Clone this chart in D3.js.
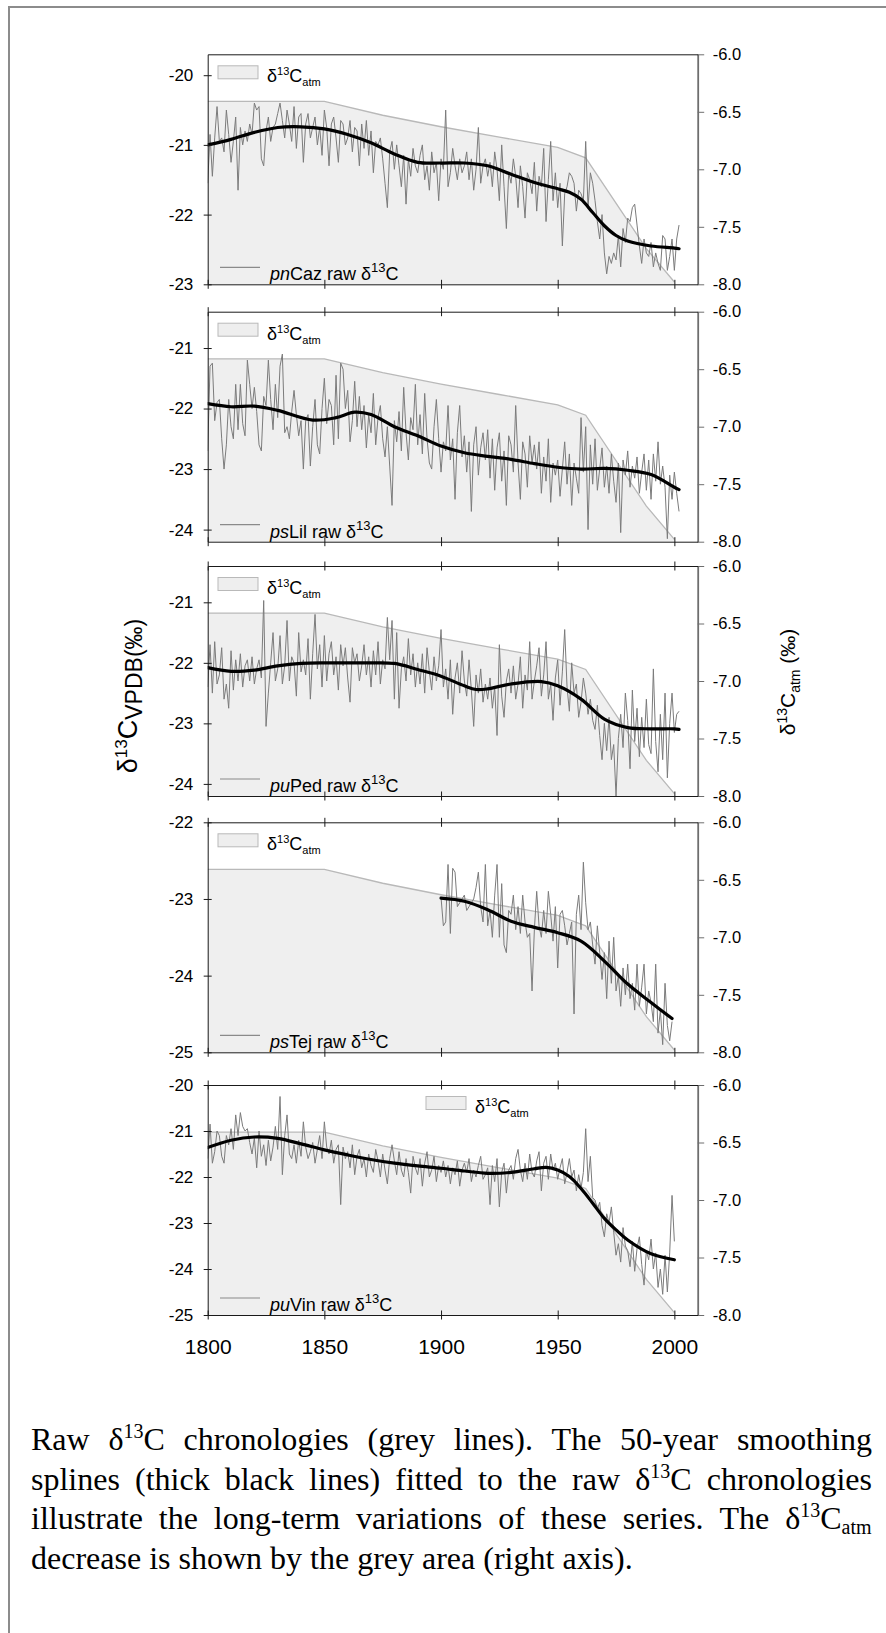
<!DOCTYPE html>
<html>
<head>
<meta charset="utf-8">
<script src="https://cdn.jsdelivr.net/npm/d3@7"></script>
<style>
  body { margin: 0; background: #fff; }
  svg { display: block; }
</style>
</head>
<body>
<svg id="fig" width="886" height="1633"></svg>
<script>
// ---- Sites (italic species prefix + site code) ----
const sitePrefix = ["pn", "ps", "pu", "ps", "pu"];
const siteCode   = ["Caz", "Lil", "Ped", "Tej", "Vin"];

// ---- Axis settings per panel ----
const leftDomains = [[-23, -19.7], [-24.2, -20.4], [-24.2, -20.4], [-25, -22], [-25, -20]];
const leftTicks = [
  [-20, -21, -22, -23],
  [-21, -22, -23, -24],
  [-21, -22, -23, -24],
  [-22, -23, -24, -25],
  [-20, -21, -22, -23, -24, -25]
];
const rightDomain = [-8, -6];
const rightTicks = [-6.0, -6.5, -7.0, -7.5, -8.0];
const yearTicks = [1800, 1850, 1900, 1950, 2000];

// ---- Atmospheric d13C (right axis) ----
const atmYears  = [1800, 1850, 1875, 1900, 1925, 1950, 1962, 1988, 2000];
const atmValues = [-6.41, -6.41, -6.53, -6.63, -6.72, -6.81, -6.90, -7.69, -7.98];

// ---- Raw annual d13C chronologies (first year, then yearly values) ----
const rawStart = [1800, 1800, 1800, 1900, 1800];

const rawCaz = [
  -21.55, -20.85, -21.45, -20.9, -20.45, -20.95, -20.9, -21.1, -20.5, -20.85,
  -21.25, -20.95, -20.6, -21.65, -20.75, -21.0, -20.8, -20.95, -20.7, -20.85,
  -20.4, -20.5, -20.45, -21.2, -21.3, -20.8, -20.6, -20.95, -20.75, -20.7,
  -20.55, -20.4, -20.65, -20.9, -20.5, -20.7, -20.95, -20.45, -21.05, -20.6,
  -20.55, -21.25, -20.7, -20.55, -20.9, -20.75, -20.6, -21.0, -20.75, -21.15,
  -20.5, -20.75, -21.3, -20.7, -20.6, -20.9, -21.25, -20.65, -20.7, -21.0,
  -20.9, -20.65, -21.1, -20.75, -20.8, -21.3, -20.7, -21.05, -20.65, -21.15,
  -20.8, -21.4, -20.95, -21.0, -20.9, -21.2, -21.55, -21.9, -21.1, -20.95,
  -21.35, -21.0, -21.3, -21.6, -21.15, -21.85, -21.2, -21.45, -21.05, -21.3,
  -21.4, -21.15, -21.0, -21.5, -21.3, -21.65, -21.1, -21.4, -21.25, -21.8,
  -21.2, -21.35, -20.5, -21.6, -21.4, -21.05, -21.3, -21.5, -21.2, -21.4,
  -21.3, -21.1, -21.5, -21.2, -21.65, -21.35, -20.75, -21.55, -21.3, -21.2,
  -21.45, -21.25, -21.6, -21.1, -21.35, -21.8, -21.0, -21.6, -22.2, -21.4,
  -21.55, -21.2, -21.45, -21.9, -21.3, -21.6, -22.05, -21.4, -21.5, -21.7,
  -21.25, -21.95, -21.45, -21.6, -21.05, -22.1, -21.5, -20.95, -21.8, -21.4,
  -21.9, -21.55, -22.45, -21.7, -21.6, -21.4, -21.45, -21.55, -21.95, -21.65,
  -21.7, -21.8, -20.95, -21.9, -21.4, -21.55, -21.8, -22.1, -22.35, -22.0,
  -22.55, -22.85, -22.6, -22.7, -22.55, -22.65, -22.3, -22.75, -22.2, -22.4,
  -22.05, -22.1, -21.9, -21.85, -22.15, -22.45, -22.7, -22.35, -22.55, -22.6,
  -22.4, -22.75, -22.55, -22.7, -22.8, -22.3, -22.35, -22.8, -22.6, -22.35,
  -22.8, -22.35, -22.15
];

const rawLil = [
  -22.7, -21.3, -21.25, -22.2, -21.9, -21.85, -22.5, -23.0, -22.6, -21.85,
  -22.3, -22.5, -21.6, -22.35, -21.6, -22.25, -22.45, -21.2, -21.6, -22.0,
  -21.65, -22.05, -22.6, -22.7, -21.8, -21.95, -21.2, -21.85, -22.35, -21.6,
  -22.15, -21.3, -21.1, -22.4, -22.3, -22.5, -22.05, -21.7, -22.1, -22.45,
  -22.2, -23.0, -22.2, -22.1, -22.95, -22.3, -21.85, -22.6, -22.75, -22.0,
  -21.5, -22.25, -21.85, -21.95, -22.6, -21.45, -22.5, -21.25, -21.35, -22.0,
  -21.7, -22.55, -22.2, -21.55, -22.3, -21.8, -22.35, -21.95, -22.65, -22.1,
  -22.4, -21.75, -22.6, -22.15, -21.95, -22.5, -22.8, -22.3, -22.95, -23.6,
  -22.2, -22.55, -22.05, -22.7, -21.65, -22.4, -22.85, -22.15, -22.35, -21.6,
  -22.6, -22.1, -22.75, -21.75, -22.5, -22.9, -23.0, -22.3, -21.85, -22.5,
  -23.05, -22.55, -22.7, -21.95, -22.85, -22.5, -23.5, -22.4, -21.95, -22.8,
  -22.45, -23.05, -22.55, -23.7, -22.6, -22.3, -23.1, -22.65, -22.4, -22.85,
  -22.35, -23.15, -22.5, -23.35, -22.65, -22.4, -23.2, -22.7, -23.6, -22.45,
  -22.6, -23.05, -21.95, -22.9, -23.5, -22.55, -22.75, -23.3, -22.45, -22.9,
  -22.6, -23.0, -22.55, -23.4, -22.8, -23.2, -22.5, -23.55, -22.9, -23.1,
  -22.85, -23.45, -23.0, -22.55, -23.25, -22.75, -23.6, -22.9, -23.15, -23.4,
  -22.15, -23.05, -22.3, -24.0, -22.6, -23.25, -22.5, -23.35, -23.0, -22.65,
  -23.3, -22.95, -23.4, -22.75, -23.2, -23.55, -22.9, -24.05, -22.85, -23.1,
  -22.7, -23.3, -22.95, -23.15, -22.8, -23.4, -23.05, -22.75, -23.35, -22.85,
  -23.5, -22.75, -23.2, -22.55, -23.25, -22.95, -23.3, -24.15, -23.1, -23.5,
  -23.05, -23.4, -23.7
];

const rawPed = [
  -22.4, -21.7, -22.5, -21.65, -22.35, -22.2, -21.75, -22.6, -22.35, -22.75,
  -21.8, -22.45, -21.95, -22.3, -21.85, -22.4, -22.05, -21.95, -22.3, -21.9,
  -22.35, -22.1, -21.95, -22.25, -20.97, -23.05, -22.5, -22.0, -21.5, -22.3,
  -22.1, -21.55, -22.35, -22.05, -21.3, -22.3, -21.9, -22.0, -22.55, -21.5,
  -22.15, -21.95, -22.2, -21.6, -22.6, -21.85, -21.2, -22.1, -21.7, -22.4,
  -21.55, -22.3, -21.85, -21.65, -22.2, -21.9, -22.45, -21.7, -22.05, -21.75,
  -22.25, -22.65, -21.75, -22.0, -21.85, -22.3, -22.05, -21.7, -22.2, -21.9,
  -22.4, -21.8, -22.2, -21.65, -22.35, -21.95, -22.1, -21.25, -21.95, -21.3,
  -22.6, -21.5, -22.75, -22.1, -21.9, -22.3, -21.6, -22.2, -21.85, -22.4,
  -22.0, -22.35, -21.85, -22.5, -21.75, -22.15, -22.45, -21.9, -22.3, -22.05,
  -21.45, -22.4, -22.1, -22.6, -21.95, -22.85, -22.25, -22.0, -22.5, -21.8,
  -22.3, -22.55, -21.95, -22.45, -23.05, -22.2, -22.5, -22.1, -22.65, -22.35,
  -22.6, -22.25, -22.75, -22.4, -23.2, -21.7, -22.55, -22.9, -22.3, -22.1,
  -22.5, -22.05, -22.6, -22.35, -21.9, -22.75, -22.2, -22.45, -21.65, -22.6,
  -22.3, -22.05, -21.75, -22.55, -22.2, -21.65, -22.6, -22.35, -22.95, -22.25,
  -21.95, -22.7, -22.15, -21.45, -22.4, -22.8, -22.0, -22.5, -22.35, -22.9,
  -22.65, -22.25, -22.5, -22.85, -22.6, -22.95, -23.1, -22.7, -23.2, -23.6,
  -23.0, -23.45, -22.9, -23.6, -23.35, -24.2, -23.25, -22.85, -23.4, -22.5,
  -22.95, -23.75, -22.45, -23.3, -22.75, -23.55, -22.9, -23.4, -22.6, -23.35,
  -23.5, -22.1, -23.3, -23.8, -22.85, -23.6, -22.5, -23.9, -23.0, -22.5,
  -23.15, -22.85, -22.8
];

const rawTej = [
  -22.98, -23.35, -23.3, -22.55, -23.45, -22.6, -22.65, -23.1, -23.05, -23.0,
  -22.95, -23.15, -23.1, -23.05, -23.0, -22.85, -22.65, -23.1, -23.3, -22.55,
  -23.35, -23.15, -23.5, -22.95, -22.55, -23.5, -22.8, -23.6, -23.7, -23.15,
  -23.2, -22.95, -23.4, -23.1, -23.45, -22.95, -23.3, -23.5, -23.45, -24.2,
  -23.4, -22.9, -23.35, -23.5, -23.15, -23.45, -22.9, -23.2, -23.55, -23.1,
  -23.9, -23.2, -23.15, -23.35, -23.6, -23.45, -23.3, -24.5, -23.2, -22.95,
  -23.4, -22.52, -23.05, -23.4, -23.3, -23.6, -23.85, -23.35, -23.7, -24.05,
  -23.7, -24.3, -23.55, -24.1, -23.5, -24.2, -24.0, -24.4, -23.9, -24.25,
  -23.85, -24.3, -24.1, -24.45, -23.85, -24.4, -24.15, -23.85, -24.5, -24.2,
  -24.35, -24.6, -23.85, -24.75, -24.45, -24.9, -24.1, -24.65, -24.85, -24.6
];

const rawVin = [
  -21.6, -20.85, -21.7, -21.45, -21.0, -21.1, -21.55, -21.7, -21.1, -21.3,
  -20.95, -21.4, -20.65, -21.1, -20.6, -20.9, -21.0, -20.95, -21.25, -21.5,
  -21.15, -21.8, -21.0, -21.55, -21.3, -21.75, -21.2, -21.65, -21.35, -20.9,
  -21.4, -20.25, -21.95, -21.1, -20.65, -21.5, -21.6, -21.3, -21.7, -21.2,
  -21.55, -20.8, -21.35, -21.6, -21.45, -21.25, -21.7, -21.4, -21.1, -21.6,
  -20.8, -21.35, -21.5, -21.2, -21.7, -21.4, -21.3, -22.6, -21.35, -21.6,
  -21.45, -21.8, -21.3, -21.95, -21.55, -21.4, -21.8, -21.6, -22.0, -21.5,
  -21.75, -21.9, -21.4, -21.65, -22.0, -21.5, -21.85, -22.15, -21.6, -21.3,
  -21.65, -21.95, -21.45, -21.85, -22.0, -21.6, -21.9, -22.35, -21.55, -21.8,
  -21.95, -21.6, -22.2, -21.7, -21.45, -22.0, -21.85, -21.55, -22.1, -21.75,
  -21.9, -21.65, -22.0, -21.75, -22.15, -21.8, -21.95, -21.65, -22.2, -21.85,
  -21.7, -21.9, -21.6, -22.1, -21.85, -22.0, -21.75, -21.55, -22.05, -21.95,
  -21.8, -22.6, -21.75, -22.1, -21.6, -22.65, -21.9, -21.7, -22.35, -21.85,
  -21.75, -22.05, -21.6, -21.4, -21.85, -22.1, -21.7, -22.05, -21.5, -21.9,
  -22.0, -21.65, -21.45, -22.3, -21.7, -21.55, -22.05, -21.5, -21.85, -21.7,
  -22.05, -21.8, -21.6, -22.15, -21.9, -21.6, -22.0, -21.85, -22.3, -21.95,
  -22.25, -21.9, -20.95, -22.1, -21.55, -22.45, -22.5, -22.7, -22.55, -23.05,
  -23.3, -22.8, -23.0, -22.65, -23.2, -23.7, -23.45, -23.85, -23.1, -23.5,
  -23.6, -23.95, -23.4, -24.05, -23.55, -23.3, -23.9, -24.35, -23.6, -23.8,
  -23.35, -24.0, -23.65, -24.4, -24.0, -24.55, -23.7, -24.5, -23.65, -22.4,
  -23.4
];

// ---- 50-year smoothing splines (knot years and values) ----
const splineYearsCaz = [1800, 1810, 1820, 1830, 1840, 1850, 1860, 1870, 1880, 1890, 1900, 1910, 1920, 1930, 1940, 1950, 1955, 1960, 1965, 1970, 1975, 1980, 1990, 2000, 2002];
const splineCaz      = [-21.0, -20.92, -20.82, -20.75, -20.74, -20.77, -20.85, -20.97, -21.13, -21.25, -21.26, -21.26, -21.3, -21.42, -21.54, -21.63, -21.68, -21.78, -21.97, -22.16, -22.3, -22.38, -22.45, -22.48, -22.49];

const splineYearsLil = [1800, 1810, 1820, 1830, 1845, 1855, 1863, 1870, 1880, 1890, 1900, 1910, 1920, 1930, 1940, 1950, 1960, 1970, 1980, 1990, 2000, 2002];
const splineLil      = [-21.92, -21.97, -21.96, -22.03, -22.19, -22.15, -22.06, -22.1, -22.3, -22.45, -22.62, -22.73, -22.79, -22.84, -22.91, -22.97, -23.0, -22.99, -23.02, -23.09, -23.3, -23.34];

const splineYearsPed = [1800, 1810, 1820, 1830, 1840, 1850, 1860, 1870, 1880, 1890, 1900, 1910, 1915, 1920, 1930, 1943, 1950, 1960, 1970, 1980, 1990, 2000, 2002];
const splinePed      = [-22.08, -22.14, -22.12, -22.05, -22.01, -22.0, -22.0, -22.0, -22.01, -22.11, -22.22, -22.38, -22.44, -22.43, -22.35, -22.31, -22.38, -22.6, -22.93, -23.07, -23.09, -23.09, -23.1];

const splineYearsTej = [1900, 1910, 1920, 1930, 1940, 1950, 1960, 1970, 1980, 1990, 1999];
const splineTej      = [-22.99, -23.03, -23.14, -23.29, -23.37, -23.44, -23.55, -23.81, -24.11, -24.35, -24.56];

const splineYearsVin = [1800, 1810, 1820, 1830, 1840, 1850, 1860, 1870, 1880, 1890, 1900, 1910, 1920, 1930, 1940, 1945, 1950, 1955, 1960, 1965, 1970, 1975, 1980, 1990, 2000];
const splineVin      = [-21.36, -21.2, -21.13, -21.16, -21.28, -21.41, -21.52, -21.62, -21.7, -21.76, -21.81, -21.87, -21.92, -21.9, -21.82, -21.79, -21.85, -21.99, -22.25, -22.57, -22.9, -23.15, -23.37, -23.67, -23.8];

const rawSeries = [rawCaz, rawLil, rawPed, rawTej, rawVin];
const splineYears = [splineYearsCaz, splineYearsLil, splineYearsPed, splineYearsTej, splineYearsVin];
const splineValues = [splineCaz, splineLil, splinePed, splineTej, splineVin];

// ---- Caption lines (^{} superscript, _{} subscript) ----
const captionLines = [
  "Raw δ^{13}C chronologies (grey lines). The 50-year smoothing",
  "splines (thick black lines) fitted to the raw δ^{13}C chronologies",
  "illustrate the long-term variations of these series. The δ^{13}C_{atm}",
  "decrease is shown by the grey area (right axis)."
];

// ================= drawing =================
const svg = d3.select("#fig");
const SANS = "'Liberation Sans', Arial, Helvetica, sans-serif";
const SERIF = "'Liberation Serif', 'Times New Roman', serif";

// layout
const plotLeft = 207.7, plotRight = 697.7;
const panelTops = [54.3, 311.7, 566, 822.3, 1085];
const panelH = 230;

const x = d3.scaleLinear().domain([1800, 2010]).range([plotLeft, plotRight]);

// number formats with a plain hyphen for negatives
const fmtInt = d => String(d3.format("d")(d)).replace("\u2212", "-");
const fmtOne = d => String(d3.format(".1f")(d)).replace("\u2212", "-");

// rich text: "^{..}" raised, "_{..}" lowered
function rich(textSel, str, base, small, up, down, supSize) {
  const parts = str.split(/(\^\{[^}]*\}|_\{[^}]*\})/).filter(s => s.length);
  let cur = 0;
  parts.forEach(p => {
    let target = 0, size = base, t = p;
    if (p.startsWith("^{")) { target = -up; size = supSize || small; t = p.slice(2, -1); }
    else if (p.startsWith("_{")) { target = down; size = small; t = p.slice(2, -1); }
    textSel.append("tspan")
      .attr("dy", target - cur)
      .attr("font-size", size)
      .text(t);
    cur = target;
  });
  return textSel;
}

// outer frame
svg.append("path")
  .attr("d", "M9,1640 V7 H900")
  .attr("fill", "none")
  .attr("stroke", "#8c8c8c")
  .attr("stroke-width", 2);

panelTops.forEach((top, i) => {
  const bottom = top + panelH;
  const y = d3.scaleLinear().domain(leftDomains[i]).range([bottom, top]);
  const y2 = d3.scaleLinear().domain(rightDomain).range([bottom, top]);
  const g = svg.append("g");

  const clipId = "clip" + i;
  svg.append("clipPath").attr("id", clipId)
    .append("rect").attr("x", plotLeft).attr("y", top)
    .attr("width", plotRight - plotLeft).attr("height", panelH);

  const plot = g.append("g").attr("clip-path", `url(#${clipId})`);

  // atmospheric d13C area (right axis)
  const atm = atmYears.map((yr, k) => [yr, atmValues[k]]);
  plot.append("path")
    .datum(atm)
    .attr("d", d3.area().x(d => x(d[0])).y0(bottom).y1(d => y2(d[1])))
    .attr("fill", "#efefef");
  plot.append("path")
    .datum(atm)
    .attr("d", d3.line().x(d => x(d[0])).y(d => y2(d[1])))
    .attr("fill", "none")
    .attr("stroke", "#b9b9b9")
    .attr("stroke-width", 1.3);

  // raw chronology
  const raw = rawSeries[i].map((v, k) => [rawStart[i] + k, v]);
  plot.append("path")
    .datum(raw)
    .attr("d", d3.line().x(d => x(d[0])).y(d => y(d[1])))
    .attr("fill", "none")
    .attr("stroke", "#7b7b7b")
    .attr("stroke-width", 1)
    .attr("stroke-linejoin", "round");

  // smoothing spline
  const spl = splineYears[i].map((yr, k) => [yr, splineValues[i][k]]);
  plot.append("path")
    .datum(spl)
    .attr("d", d3.line().curve(d3.curveCatmullRom.alpha(0.5)).x(d => x(d[0])).y(d => y(d[1])))
    .attr("fill", "none")
    .attr("stroke", "#000")
    .attr("stroke-width", 3.2)
    .attr("stroke-linecap", "round");

  // left axis
  const ax = g.append("g").attr("transform", `translate(${plotLeft},0)`)
    .call(d3.axisLeft(y).tickValues(leftTicks[i]).tickSize(4).tickSizeOuter(0).tickPadding(10.4).tickFormat(fmtInt));
  ax.selectAll(".tick line").attr("x1", 4);

  // right axis
  const ar = g.append("g").attr("transform", `translate(${plotRight},0)`)
    .call(d3.axisRight(y2).tickValues(rightTicks).tickSize(6.5).tickSizeOuter(0).tickPadding(8.5).tickFormat(fmtOne));
  ar.select(".domain").attr("stroke", "#6e6e6e").attr("stroke-width", 1.8);
  ar.selectAll(".tick line").attr("stroke", "#6e6e6e");

  // bottom axis
  const ab = g.append("g").attr("transform", `translate(0,${bottom})`)
    .call(d3.axisBottom(x).tickValues(yearTicks).tickSize(4.5).tickSizeOuter(0).tickPadding(20)
      .tickFormat(i === 4 ? fmtInt : () => ""));
  ab.selectAll(".tick line").attr("y1", -4.5);
  ab.selectAll("text").attr("font-size", 21);

  // top axis
  const at = g.append("g").attr("transform", `translate(0,${top})`)
    .call(d3.axisTop(x).tickValues(i === 0 ? [] : yearTicks).tickSize(4.5).tickSizeOuter(0).tickFormat(() => ""));
  at.selectAll(".tick line").attr("y1", 4.5);

  [ax, ab, at].forEach(a => {
    a.select(".domain").attr("stroke", "#1a1a1a");
    a.selectAll(".tick line").attr("stroke", "#1a1a1a");
  });
  [ax, ar, ab].forEach(a => a.selectAll("text")
    .attr("font-family", SANS).attr("fill", "#000"));
  ax.selectAll("text").attr("font-size", 17);
  ar.selectAll("text").attr("font-size", 16.5);

  // atmospheric legend
  const lx = i === 4 ? 426 : 218;
  g.append("rect")
    .attr("x", lx).attr("y", top + 11.5).attr("width", 40).attr("height", 13)
    .attr("fill", "#eeeeee").attr("stroke", "#b9b9b9").attr("stroke-width", 1);
  rich(g.append("text").attr("x", lx + 49).attr("y", top + 28)
      .attr("font-family", SANS).attr("fill", "#000"),
    "δ^{13}C_{atm}", 18, 11, 7, 4);

  // raw series legend
  g.append("line")
    .attr("x1", 220).attr("x2", 260).attr("y1", bottom - 17).attr("y2", bottom - 17)
    .attr("stroke", "#8a8a8a").attr("stroke-width", 1.2);
  const lt = g.append("text").attr("x", 270).attr("y", bottom - 4)
    .attr("font-family", SANS).attr("font-size", 18).attr("fill", "#000");
  lt.append("tspan").attr("font-style", "italic").text(sitePrefix[i]);
  lt.append("tspan").text(siteCode[i] + " raw δ");
  lt.append("tspan").attr("dy", -8).attr("font-size", 13).text("13");
  lt.append("tspan").attr("dy", 8).text("C");
});

// left axis title
rich(svg.append("text")
    .attr("transform", "translate(137,696) rotate(-90)")
    .attr("text-anchor", "middle")
    .attr("font-family", SANS).attr("fill", "#000"),
  "δ^{13}C_{VPDB(‰)}", 27, 23, 10, 5, 17);

// right axis title
rich(svg.append("text")
    .attr("transform", "translate(795,682) rotate(-90)")
    .attr("text-anchor", "middle")
    .attr("font-family", SANS).attr("fill", "#000"),
  "δ^{13}C_{atm} (‰)", 21, 14, 8, 5);

// caption, justified between two margins
const capLeft = 31, capRight = 872, capBase = 1450, capStep = 39.5;
captionLines.forEach((line, li) => {
  const words = line.split(" ");
  const gLine = svg.append("g");
  const nodes = words.map(w => rich(gLine.append("text")
      .attr("y", capBase + li * capStep)
      .attr("font-family", SERIF).attr("fill", "#000"),
    w, 32, 20, 12, 5));
  const widths = nodes.map(n => n.node().getBBox().width);
  const total = d3.sum(widths);
  const last = li === captionLines.length - 1;
  const gap = last ? 8 : (capRight - capLeft - total) / (words.length - 1);
  let cx = capLeft;
  nodes.forEach((n, k) => { n.attr("x", cx); cx += widths[k] + gap; });
});
</script>
</body>
</html>
